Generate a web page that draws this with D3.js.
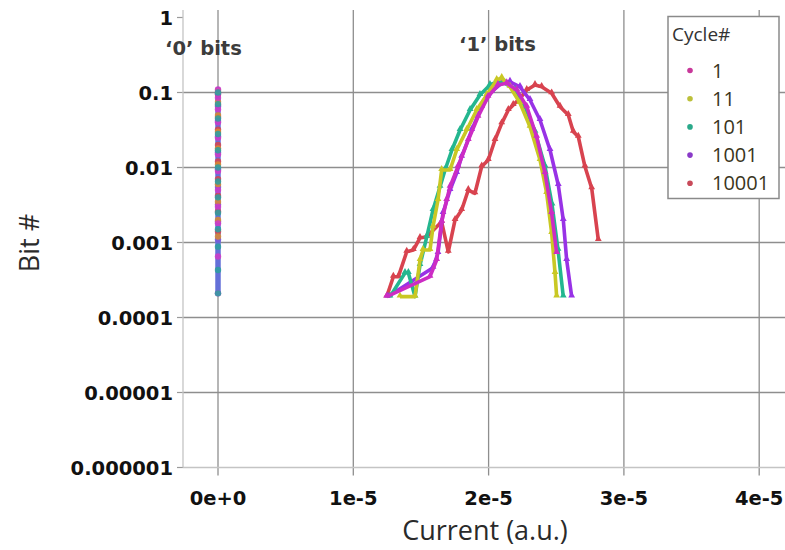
<!DOCTYPE html>
<html><head><meta charset="utf-8">
<script src="https://cdn.jsdelivr.net/npm/d3@7"></script>
<style>body{margin:0;background:#fff}</style>
</head><body><svg id="c" width="785" height="550"></svg>
<script>
// ---------- data ----------
const cycles = ["1", "11", "101", "1001", "10001"];
const cycleColors = ["#cc2cc4", "#c9c824", "#24b68f", "#9832e6", "#d8434f"];
const legendDotColors = ["#c8389a", "#bcc03a", "#2aa98a", "#8a3ac8", "#c84a5a"];

const xTicks = [0, 1e-5, 2e-5, 3e-5, 4e-5];
const xTickLabels = ["0e+0", "1e-5", "2e-5", "3e-5", "4e-5"];
const yTicks = [1, 0.1, 0.01, 0.001, 0.0001, 0.00001, 0.000001];
const yTickLabels = ["1", "0.1", "0.01", "0.001", "0.0001", "0.00001", "0.000001"];

// '1' bits distributions (current, fraction of bits)
const cur1    = [1.247e-5,1.567e-5,1.616e-5,1.653e-5,1.690e-5,1.715e-5,1.774e-5,1.850e-5,1.922e-5,1.996e-5,2.069e-5,2.134e-5,2.208e-5,2.282e-5,2.355e-5,2.417e-5,2.466e-5,2.503e-5];
const bits1   = [1.9e-4,3.5e-4,5.85e-4,1.89e-3,3.69e-3,5.55e-3,1.03e-2,2.33e-2,4.75e-2,8.79e-2,0.126,0.133,0.108,6.47e-2,2.57e-2,8.45e-3,2.47e-3,7.24e-4];

const cur11   = [1.345e-5,1.456e-5,1.493e-5,1.515e-5,1.567e-5,1.589e-5,1.626e-5,1.653e-5,1.715e-5,1.764e-5,1.838e-5,1.912e-5,1.986e-5,2.060e-5,2.097e-5,2.158e-5,2.232e-5,2.306e-5,2.380e-5,2.429e-5,2.466e-5,2.491e-5,2.503e-5];
const bits11  = [1.9e-4,1.9e-4,5.85e-4,7.94e-4,7.94e-4,1.62e-3,3.69e-3,9.26e-3,9.26e-3,1.71e-2,3.16e-2,5.85e-2,9.26e-2,0.147,0.156,0.119,7.24e-2,3.5e-2,1.26e-2,4.57e-3,1.34e-3,3.92e-4,1.9e-4];

const cur101  = [1.271e-5,1.382e-5,1.407e-5,1.456e-5,1.493e-5,1.543e-5,1.589e-5,1.641e-5,1.678e-5,1.729e-5,1.789e-5,1.863e-5,1.936e-5,2.010e-5,2.062e-5,2.121e-5,2.195e-5,2.269e-5,2.343e-5,2.417e-5,2.469e-5,2.513e-5,2.552e-5];
const bits101 = [1.9e-4,3.92e-4,3.92e-4,1.9e-4,5.01e-4,1.19e-3,2.71e-3,5.55e-3,9.26e-3,1.71e-2,3.16e-2,5.85e-2,9.26e-2,0.126,0.139,0.133,0.108,6.47e-2,3.0e-2,1.03e-2,3.2e-3,8.0e-4,1.9e-4];

const cur1001  = [1.256e-5,1.589e-5,1.626e-5,1.663e-5,1.715e-5,1.764e-5,1.801e-5,1.875e-5,1.949e-5,2.023e-5,2.097e-5,2.158e-5,2.232e-5,2.306e-5,2.380e-5,2.454e-5,2.515e-5,2.552e-5,2.577e-5,2.614e-5];
const bits1001 = [1.9e-4,4.6e-4,7.24e-4,2.47e-3,5.01e-3,8.45e-3,1.39e-2,3.16e-2,6.47e-2,0.1025,0.133,0.139,0.119,7.94e-2,4.3e-2,1.71e-2,5.85e-3,2.0e-3,5.85e-4,1.9e-4];

const cur10001  = [1.247e-5,1.296e-5,1.333e-5,1.395e-5,1.444e-5,1.493e-5,1.543e-5,1.653e-5,1.702e-5,1.752e-5,1.801e-5,1.850e-5,1.899e-5,1.949e-5,1.998e-5,2.047e-5,2.097e-5,2.146e-5,2.182e-5,2.232e-5,2.282e-5,2.343e-5,2.392e-5,2.466e-5,2.528e-5,2.589e-5,2.626e-5,2.663e-5,2.712e-5,2.762e-5,2.811e-5];
const bits10001 = [1.9e-4,3.5e-4,3.5e-4,7.54e-4,7.94e-4,1.15e-3,1.19e-3,1.89e-3,7.5e-4,2.0e-3,2.71e-3,5.01e-3,4.53e-3,1.03e-2,1.26e-2,2.33e-2,3.88e-2,5.85e-2,6.81e-2,8.37e-2,0.108,0.126,0.119,9.75e-2,6.47e-2,5.01e-2,3.0e-2,2.57e-2,1.03e-2,5.28e-3,1.08e-3];

// '0' bits (current ~ 0)
const zero1     = [0.11,0.085,0.06,0.04,0.025,0.015,0.009,0.005,0.003,0.0018,0.00065,0.00021];
const zero11    = [0.105,0.075,0.05,0.03,0.018,0.011,0.006,0.0035,0.002,0.0012];
const zero101   = [0.1,0.07,0.045,0.028,0.017,0.01,0.0065,0.004,0.0025,0.0015,0.00088,0.00043,0.00021];
const zero1001  = [0.098,0.065,0.042,0.026,0.016,0.0095,0.0055,0.0032,0.0019,0.0011];
const zero10001 = [0.095,0.068,0.047,0.032,0.02,0.012,0.007,0.0042,0.0026,0.0014];
const zeroCurrent = 0;

const oneCur = [cur1, cur11, cur101, cur1001, cur10001];
const oneBits = [bits1, bits11, bits101, bits1001, bits10001];
const zeroBits = [zero1, zero11, zero101, zero1001, zero10001];

// ---------- layout ----------
const svg = d3.select("#c");
const pLeft = 183, pRight = 785, pTop = 10, pBottom = 467.5;
const x = d3.scaleLinear().domain([-0.2587e-5, 4.1907e-5]).range([pLeft, pRight]);
const y = d3.scaleLog().domain([1e-6, 1]).range([pBottom, 17.5]);

const gridColor = "#8e8e8e";
svg.append("g").selectAll("line").data(xTicks).join("line")
  .attr("x1", d => x(d)).attr("x2", d => x(d))
  .attr("y1", pTop).attr("y2", pBottom + 8)
  .attr("stroke", gridColor).attr("stroke-width", 1.3);
svg.append("g").selectAll("line").data(yTicks.filter(v => v < 1 && v > 1e-6)).join("line")
  .attr("x1", pLeft).attr("x2", pRight)
  .attr("y1", d => y(d)).attr("y2", d => y(d))
  .attr("stroke", gridColor).attr("stroke-width", 1.3);
svg.append("g").selectAll("line").data(yTicks).join("line")
  .attr("x1", pLeft - 6).attr("x2", pLeft)
  .attr("y1", d => y(d)).attr("y2", d => y(d))
  .attr("stroke", "#9a9a9a").attr("stroke-width", 1.2);
svg.append("line").attr("x1", pLeft).attr("x2", pLeft).attr("y1", pTop).attr("y2", pBottom)
  .attr("stroke", "#c4c4c4").attr("stroke-width", 1.3);
svg.append("line").attr("x1", pLeft).attr("x2", pRight).attr("y1", pBottom).attr("y2", pBottom)
  .attr("stroke", "#c4c4c4").attr("stroke-width", 1.3);

svg.append("g").selectAll("text").data(yTicks).join("text")
  .attr("x", pLeft - 10).attr("y", d => y(d) + 7)
  .attr("text-anchor", "end")
  .style("font-family", "DejaVu Sans").style("font-weight", "bold").style("font-size", "19.5px")
  .attr("fill", "#111")
  .text((d, i) => yTickLabels[i]);
svg.append("g").selectAll("text").data(xTicks).join("text")
  .attr("x", d => x(d)).attr("y", 505)
  .attr("text-anchor", "middle")
  .style("font-family", "DejaVu Sans").style("font-weight", "bold").style("font-size", "19.5px")
  .attr("fill", "#111")
  .text((d, i) => xTickLabels[i]);

svg.append("text").attr("x", 485).attr("y", 540).attr("text-anchor", "middle")
  .style("font-family", "Open Sans").style("font-size", "27px").attr("fill", "#2a2a2a")
  .text("Current (a.u.)");
svg.append("text").attr("transform", "translate(39,243) rotate(-90)").attr("text-anchor", "middle")
  .style("font-family", "Open Sans").style("font-size", "27px").attr("fill", "#2a2a2a")
  .text("Bit #");

svg.append("text").attr("x", 165).attr("y", 55)
  .style("font-family", "DejaVu Sans").style("font-weight", "bold").style("font-size", "19.5px")
  .attr("fill", "#3c3c3c").text("\u20180\u2019 bits");
svg.append("text").attr("x", 459).attr("y", 51)
  .style("font-family", "DejaVu Sans").style("font-weight", "bold").style("font-size", "19.5px")
  .attr("fill", "#3c3c3c").text("\u20181\u2019 bits");

const line = d3.line().x(d => x(d[0])).y(d => y(d[1]));
const tri = d3.symbol().type(d3.symbolTriangle).size(20);
const drawOrder = [4, 3, 2, 1, 0];
drawOrder.forEach(i => {
  const pts = oneCur[i].map((c, k) => [c, oneBits[i][k]]);
  const g = svg.append("g");
  g.append("path").datum(pts).attr("d", line)
    .attr("fill", "none").attr("stroke", cycleColors[i]).attr("stroke-width", 3.6)
    .attr("stroke-linejoin", "round");
  g.selectAll("path.m").data(pts).join("path").attr("class", "m")
    .attr("transform", d => `translate(${x(d[0])},${y(d[1]) - 1})`)
    .attr("d", tri).attr("fill", cycleColors[i]);
});

const allZero = zeroBits.flat();
svg.append("line")
  .attr("x1", x(zeroCurrent)).attr("x2", x(zeroCurrent))
  .attr("y1", y(d3.max(allZero))).attr("y2", y(d3.min(allZero)))
  .attr("stroke", "#6470d8").attr("stroke-width", 5.5).attr("stroke-linecap", "round");
const zeroDotColors = ["#d03ac8", "#d88a30", "#2aa0a0", "#7a5ad8", "#d8434f"];
[4, 3, 1, 0, 2].forEach(i => {
  svg.append("g").selectAll("circle").data(zeroBits[i]).join("circle")
    .attr("cx", x(zeroCurrent)).attr("cy", d => y(d)).attr("r", 3.2)
    .attr("fill", zeroDotColors[i]).attr("opacity", 0.85);
});

const lg = svg.append("g");
lg.append("rect").attr("x", 668).attr("y", 16.5).attr("width", 111).attr("height", 182)
  .attr("fill", "#fff").attr("stroke", "#8a8a8a").attr("stroke-width", 1.5);
lg.append("text").attr("x", 672).attr("y", 41)
  .style("font-family", "Open Sans").style("font-size", "19px").attr("fill", "#333").text("Cycle#");
cycles.forEach((c, i) => {
  const yy = 70.5 + i * 28.2;
  lg.append("circle").attr("cx", 690).attr("cy", yy).attr("r", 2.8).attr("fill", legendDotColors[i]);
  lg.append("text").attr("x", 712).attr("y", yy + 7)
    .style("font-family", "Open Sans").style("font-size", "20px").attr("fill", "#3a3520").text(c);
});
</script></body></html>
